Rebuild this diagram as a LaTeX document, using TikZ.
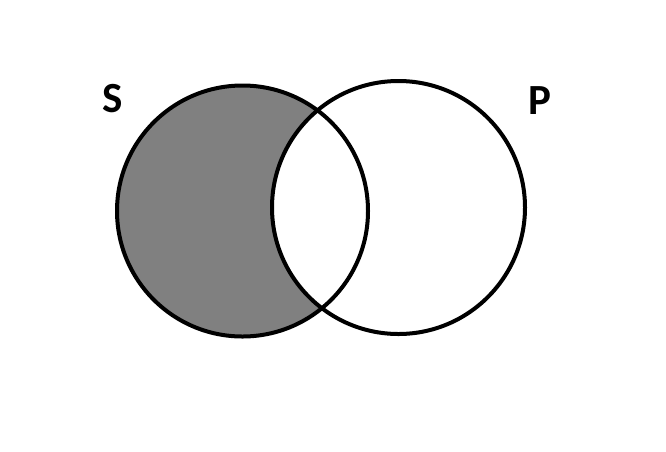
\documentclass[tikz,border=0pt]{standalone}
\usepackage{fontspec}
\setmainfont{Carlito}
\begin{document}
\begin{tikzpicture}[x=1pt,y=-1pt,
  ring/.style={draw=black,line width=4pt},
  lbl/.style={font=\fontsize{43}{43}\selectfont\bfseries,inner sep=0pt}]
\useasboundingbox (0,0) rectangle (666,451);
\fill[white] (0,0) rectangle (666,451);
\coordinate (cs) at (242.5,211);
\coordinate (cp) at (398.5,207.5);
\fill[gray] (cs) circle (125.5);
\begin{scope}
  \clip (cs) circle (125.5);
  \fill[white] (cp) circle (126.5);
\end{scope}
\draw[ring] (cs) circle (125.5);
\draw[ring] (cp) circle (126.5);
\node[lbl] (s) at (113,99) {S};
\node[lbl] (p) at (540,101) {P};
\end{tikzpicture}
\end{document}
